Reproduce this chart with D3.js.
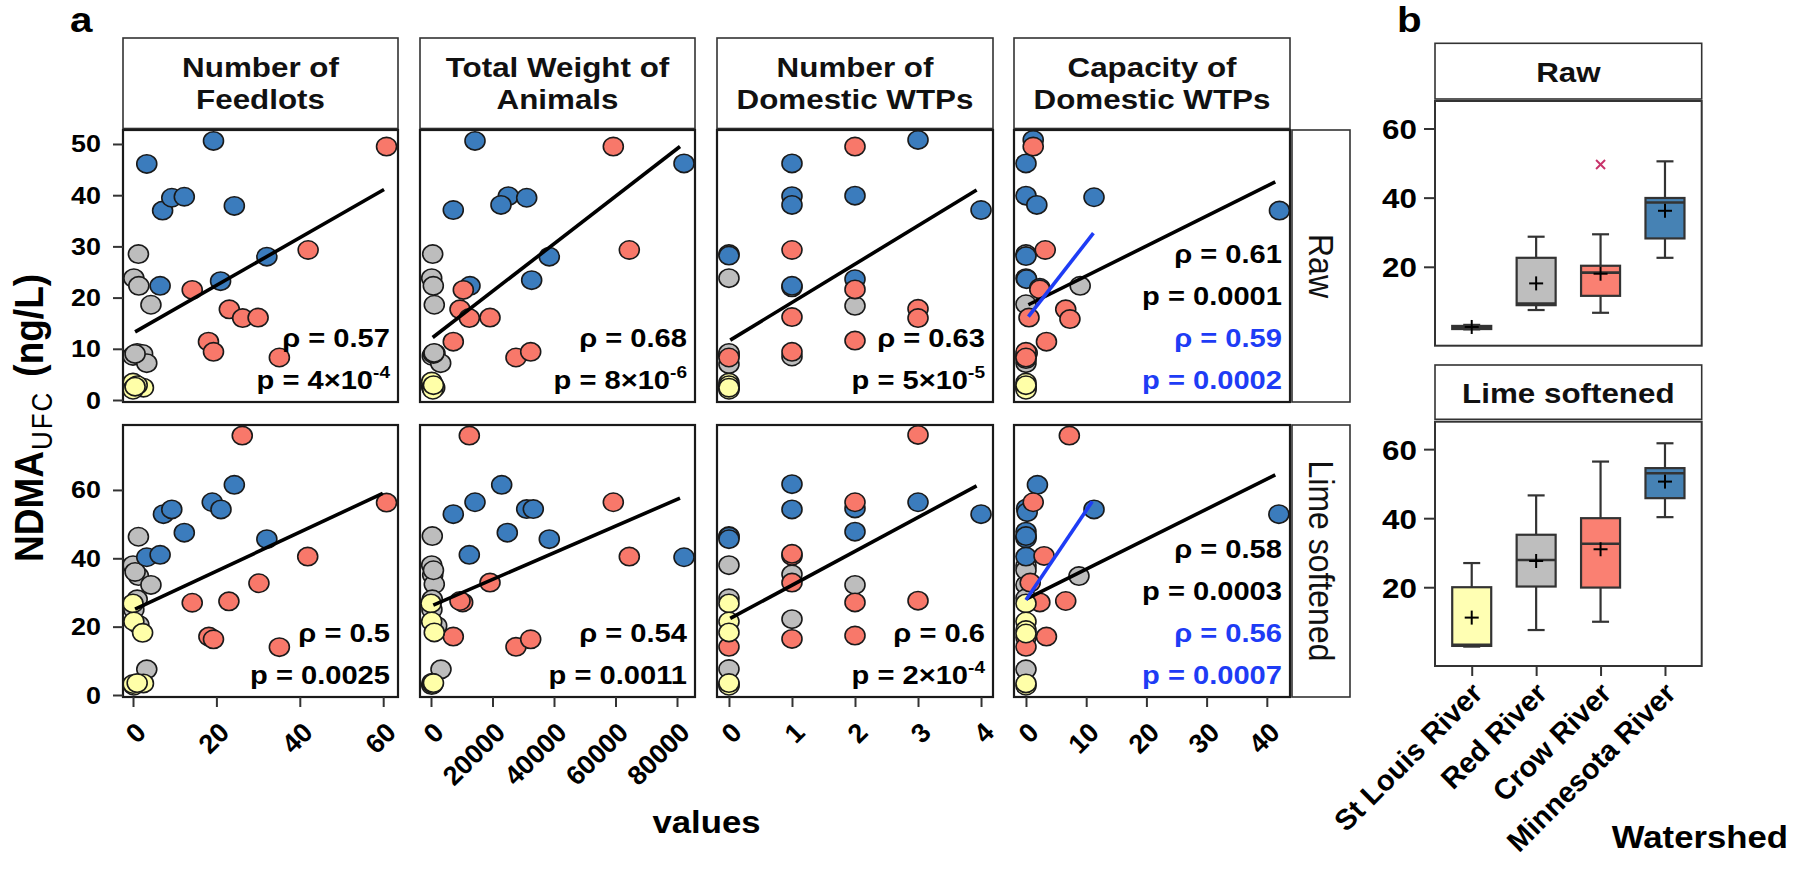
<!DOCTYPE html>
<html><head><meta charset="utf-8">
<script src="https://cdn.jsdelivr.net/npm/d3@7"></script>
<style>body{margin:0;background:#fff} svg{display:block}</style>
</head><body>
<svg id="c" width="1804" height="870"></svg>
<script>
// ---------------- DATA ----------------
const watersheds = ["St Louis River", "Red River", "Crow River", "Minnesota River"];
const groupCodes = ["S", "R", "C", "M"];
const stripLabels = [["Number of", "Feedlots"], ["Total Weight of", "Animals"], ["Number of", "Domestic WTPs"], ["Capacity of", "Domestic WTPs"]];
const rowLabels = ["Raw", "Lime softened"];
const xTicks = [[0, 20, 40, 60], [0, 20000, 40000, 60000, 80000], [0, 1, 2, 3, 4], [0, 10, 20, 30, 40]];
const yTicks = [[0, 10, 20, 30, 40, 50], [0, 20, 40, 60]];
const boxYTicks = [20, 40, 60];

// points: [x, NDMA, watershed code]
const raw_feedlots = [
  [3.3,46.1,"M"],[7.1,37.0,"M"],[9.3,39.5,"M"],[12.3,39.7,"M"],[19.3,50.6,"M"],[24.3,37.9,"M"],[32.1,28.0,"M"],[21.0,23.2,"M"],[6.5,22.3,"M"],
  [60.8,49.5,"C"],[42.0,29.3,"C"],[14.2,21.5,"C"],[23.1,17.7,"C"],[26.3,16.0,"C"],[30.0,16.1,"C"],[18.1,11.4,"C"],[19.3,9.4,"C"],[35.1,8.3,"C"],
  [1.3,28.5,"R"],[0.2,23.8,"R"],[1.4,22.3,"R"],[4.3,18.6,"R"],[0,8.6,"R"],[1.0,9.2,"R"],[2.3,9.0,"R"],[3.3,7.2,"R"],[0.5,9.0,"R"],
  [0,3.4,"S"],[0.2,2.3,"S"],[2.5,2.4,"S"],[0,2.0,"S"],[1.0,2.9,"S"],[0.5,2.6,"S"]
];
const raw_weight = [
  [14310,50.6,"M"],[82280,46.2,"M"],[7250,37.1,"M"],[25140,39.8,"M"],[22760,38.1,"M"],[31120,39.5,"M"],[38470,28.0,"M"],[32740,23.4,"M"],[12680,22.3,"M"],
  [59290,49.5,"C"],[64490,29.3,"C"],[10510,21.5,"C"],[9430,17.7,"C"],[12460,16.0,"C"],[19190,16.1,"C"],[7250,11.4,"C"],[27640,8.3,"C"],[32420,9.4,"C"],
  [550,28.5,"R"],[230,23.8,"R"],[750,22.3,"R"],[1070,18.6,"R"],[420,8.6,"R"],[1300,9.1,"R"],[3150,7.2,"R"],[800,9.0,"R"],[1000,9.2,"R"],
  [230,2.6,"S"],[230,3.6,"S"],[400,2.3,"S"],[1200,2.4,"S"],[600,2.0,"S"],[800,2.9,"S"]
];
const raw_wtp = [
  [3,50.8,"M"],[1,46.2,"M"],[1,39.8,"M"],[1,38.1,"M"],[2,39.9,"M"],[4,37.1,"M"],[0,28.2,"M"],[1,22.3,"M"],[2,23.6,"M"],
  [0,8.3,"C"],[1,29.3,"C"],[1,16.2,"C"],[1,9.4,"C"],[2,49.5,"C"],[2,21.6,"C"],[2,11.6,"C"],[3,17.8,"C"],[3,16.0,"C"],
  [0,28.5,"R"],[0,23.8,"R"],[2,18.4,"R"],[1,8.5,"R"],[0,9.0,"R"],[0,7.0,"R"],[1,22.0,"R"],[0,8.6,"R"],[0,9.2,"R"],
  [0,3.4,"S"],[0,2.6,"S"],[0,2.3,"S"],[0,2.0,"S"],[0,2.9,"S"],[0,2.4,"S"]
];
const raw_cap = [
  [1.2,50.8,"M"],[0,46.2,"M"],[0,39.9,"M"],[1.8,38.1,"M"],[11.3,39.6,"M"],[42.1,37.0,"M"],[0,28.1,"M"],[0.1,23.6,"M"],[2.3,21.9,"M"],
  [1.2,49.5,"C"],[3.2,29.3,"C"],[2.3,21.6,"C"],[0.5,16.1,"C"],[6.6,17.7,"C"],[7.3,15.8,"C"],[3.4,11.4,"C"],[0,9.4,"C"],[0,8.3,"C"],
  [9.0,22.3,"R"],[0,18.7,"R"],[0,7.2,"R"],[0,28.5,"R"],[0,23.8,"R"],[0,8.6,"R"],[0,9.0,"R"],[0.2,9.2,"R"],[0,8.0,"R"],
  [0,3.4,"S"],[0,2.6,"S"],[0,2.3,"S"],[0,2.0,"S"],[0,2.9,"S"]
];
const lime_feedlots = [
  [26.2,75.9,"C"],[60.8,56.3,"C"],[41.9,40.5,"C"],[30.2,32.7,"C"],[14.2,27.0,"C"],[23.0,27.4,"C"],[18.2,17.1,"C"],[19.3,16.3,"C"],[35.1,14.0,"C"],
  [24.3,61.5,"M"],[19.0,56.4,"M"],[21.1,54.3,"M"],[7.3,52.9,"M"],[9.3,54.3,"M"],[12.3,47.5,"M"],[32.1,45.6,"M"],[3.3,40.3,"M"],[6.5,41.0,"M"],
  [1.3,46.3,"R"],[0,38.0,"R"],[1.3,34.8,"R"],[4.3,32.2,"R"],[1.0,28.0,"R"],[3.3,7.5,"R"],[1.4,20.5,"R"],[0.5,36.0,"R"],[0.2,25.0,"R"],
  [0,26.8,"S"],[0.2,21.5,"S"],[2.3,18.2,"S"],[0.2,2.7,"S"],[2.5,3.4,"S"],[0,3.2,"S"],[1.0,3.5,"S"]
];
const lime_weight = [
  [12460,75.9,"C"],[59290,56.4,"C"],[64490,40.5,"C"],[19190,32.9,"C"],[10300,27.1,"C"],[9430,27.5,"C"],[7250,17.1,"C"],[27640,14.1,"C"],[32420,16.3,"C"],
  [22990,61.5,"M"],[14310,56.4,"M"],[31120,54.4,"M"],[33270,54.4,"M"],[7250,52.9,"M"],[24810,47.5,"M"],[38470,45.6,"M"],[12460,41.0,"M"],[82280,40.3,"M"],
  [420,46.5,"R"],[230,38.0,"R"],[550,35.1,"R"],[1070,32.4,"R"],[420,28.0,"R"],[3250,7.5,"R"],[1850,20.2,"R"],[800,36.5,"R"],[300,25.0,"R"],
  [0,26.8,"S"],[230,21.5,"S"],[1070,18.3,"S"],[230,2.9,"S"],[400,3.6,"S"],[600,3.2,"S"],[800,3.5,"S"]
];
const lime_wtp = [
  [0,46.3,"M"],[0,45.6,"M"],[1,61.7,"M"],[1,54.3,"M"],[2,54.6,"M"],[2,47.8,"M"],[3,56.4,"M"],[4,52.9,"M"],
  [0,14.1,"C"],[1,40.7,"C"],[1,41.3,"C"],[1,32.9,"C"],[1,16.4,"C"],[2,56.4,"C"],[2,27.1,"C"],[2,17.4,"C"],[3,76.1,"C"],[3,27.6,"C"],
  [0,46.5,"R"],[0,38.0,"R"],[0,28.3,"R"],[0,7.6,"R"],[1,35.3,"R"],[1,22.2,"R"],[2,32.2,"R"],
  [0,26.8,"S"],[0,21.5,"S"],[0,18.3,"S"],[0,3.1,"S"],[0,2.7,"S"],[0,3.5,"S"]
];
const lime_cap = [
  [7.2,75.9,"C"],[1.2,56.4,"C"],[3.0,40.7,"C"],[0.7,32.9,"C"],[2.3,27.1,"C"],[6.6,27.5,"C"],[3.4,17.1,"C"],[0,16.8,"C"],[0,14.1,"C"],
  [1.9,61.5,"M"],[0.1,54.6,"M"],[11.3,54.3,"M"],[42.0,52.9,"M"],[0,47.8,"M"],[0,45.8,"M"],[0,40.5,"M"],[0.2,53.5,"M"],[0,46.5,"M"],
  [8.8,34.8,"R"],[0,37.8,"R"],[0,32.2,"R"],[0,7.5,"R"],[0,28.3,"R"],[0,46.3,"R"],[0,36.5,"R"],
  [0,26.8,"S"],[0,21.5,"S"],[0,19.0,"S"],[0,2.7,"S"],[0,18.0,"S"],[0,3.4,"S"]
];

// fitted lines: [x0, y0, x1, y1]
const fitRaw  = [[0.5,13.3,60.2,41.1],[550,12.2,80980,49.5],[0.02,11.7,3.93,41.0],[0.4,18.6,41.4,42.6]];
const fitLime = [[0.5,25.1,59.9,59.0],[750,26.3,80980,57.6],[0.02,22.4,3.93,61.2],[0.1,28.1,41.4,64.4]];
const fitBlueRaw  = [0.4,16.3,11.2,32.6];
const fitBlueLime = [0.0,27.8,11.0,56.6];

const rhoRaw  = ["0.57", "0.68", "0.63", "0.61"];
const pRaw    = ["4×10^-4", "8×10^-6", "5×10^-5", "0.0001"];
const rhoLime = ["0.5", "0.54", "0.6", "0.58"];
const pLime   = ["0.0025", "0.0011", "2×10^-4", "0.0003"];
const rhoBlue = ["0.59", "0.56"];
const pBlue   = ["0.0002", "0.0007"];

// boxplot stats per watershed
const raw_min  = [1.9, 7.5, 6.7, 22.6];
const raw_q1   = [2.0, 8.9, 11.6, 28.2];
const raw_med  = [2.4, 9.4, 18.3, 38.6];
const raw_q3   = [2.9, 22.6, 20.3, 39.9];
const raw_max  = [3.2, 28.7, 29.4, 50.5];
const raw_mean = [2.6, 15.2, 18.0, 36.2];
const raw_out  = [[], [], [49.6], []];
const lime_min  = [2.8, 7.6, 10.0, 40.3];
const lime_q1   = [3.0, 20.2, 19.9, 45.8];
const lime_med  = [3.3, 27.9, 32.6, 53.0];
const lime_q3   = [20.0, 35.2, 40.0, 54.5];
const lime_max  = [27.0, 46.6, 56.4, 61.7];
const lime_mean = [11.2, 27.6, 31.0, 50.6];
const lime_out  = [[], [], [], []];

// ---------------- STYLE / LAYOUT ----------------
const FONT = "'Liberation Sans', Arial, Helvetica, sans-serif";
const SX = 1.12;
const pointFill = {S: "#FFFFA8", R: "#BDBDBD", C: "#F8786A", M: "#3B7CBD"};
const drawOrder = {R: 0, M: 1, C: 2, S: 3};
const boxFill = ["#FFFFB3", "#BEBEBE", "#FA8072", "#4682B4"];
const BLUE = "#1E3CF5";

const colX = [[123, 398], [420, 695], [717, 993], [1014, 1290]];
const rowY = [[130, 402], [425, 697]];
const stripY = [38, 128.5];
const rightStripX = [1292, 1350];
const xDomains = [[-2.40, 63.55], [-3577, 85854], [-0.19, 4.19], [-1.99, 43.85]];
const yDomains = [[-0.39, 52.73], [-0.585, 79.0]];

const boxX = [1435, 1701.7];
const boxPanelY = [[101, 345.7], [421.7, 666]];
const boxStripY = [[43.3, 99], [365, 419.3]];
const boxDomain = [-2.82, 67.95];

const svg = d3.select("#c");
svg.append("rect").attr("width", 1804).attr("height", 870).attr("fill", "#fff");

function label(parent, x, y, s, o = {}) {
  const t = parent.append("text")
    .attr("transform", `translate(${x},${y}) scale(${o.sx ?? SX},1)` + (o.rot ? ` rotate(${o.rot})` : ""))
    .attr("font-family", FONT).attr("font-size", o.size || 24)
    .attr("font-weight", o.weight || "bold")
    .attr("text-anchor", o.anchor || "start")
    .attr("fill", o.fill || "#000");
  if (s != null) t.text(s);
  return t;
}
function mathLabel(parent, x, y, str, o) {
  const t = label(parent, x, y, null, o);
  const parts = str.split("^");
  t.append("tspan").text(parts[0]);
  if (parts[1]) t.append("tspan").attr("font-size", 17).attr("dy", -11).text(parts[1]);
  return t;
}

// ---------------- PANEL a ----------------
const pointsByRow = [[raw_feedlots, raw_weight, raw_wtp, raw_cap], [lime_feedlots, lime_weight, lime_wtp, lime_cap]];
const fitsByRow = [fitRaw, fitLime];
const blueByRow = [fitBlueRaw, fitBlueLime];
const rhoByRow = [rhoRaw, rhoLime];
const pByRow = [pRaw, pLime];

// top strips
stripLabels.forEach((lines, ci) => {
  const [x0, x1] = colX[ci];
  svg.append("rect").attr("x", x0).attr("y", stripY[0]).attr("width", x1 - x0).attr("height", stripY[1] - stripY[0])
    .attr("fill", "#fff").attr("stroke", "#333").attr("stroke-width", 1.6);
  const cx = (x0 + x1) / 2, cy = (stripY[0] + stripY[1]) / 2;
  lines.forEach((ln, k) => label(svg, cx, cy - 6 + 32 * k, ln, {size: 28, anchor: "middle", fill: "#111"}));
});
// right strips
rowLabels.forEach((lab, ri) => {
  const [y0, y1] = rowY[ri];
  svg.append("rect").attr("x", rightStripX[0]).attr("y", y0).attr("width", rightStripX[1] - rightStripX[0]).attr("height", y1 - y0)
    .attr("fill", "#fff").attr("stroke", "#333").attr("stroke-width", 1.6);
  label(svg, (rightStripX[0] + rightStripX[1]) / 2 - 12.5, (y0 + y1) / 2, lab, {size: 32, weight: "normal", anchor: "middle", rot: 90, fill: "#111"});
});

for (let ri = 0; ri < 2; ri++) {
  for (let ci = 0; ci < 4; ci++) {
    const x = d3.scaleLinear().domain(xDomains[ci]).range(colX[ci]);
    const y = d3.scaleLinear().domain(yDomains[ri]).range([rowY[ri][1], rowY[ri][0]]);
    const g = svg.append("g");
    g.append("rect").attr("x", colX[ci][0]).attr("y", rowY[ri][0]).attr("width", colX[ci][1] - colX[ci][0])
      .attr("height", rowY[ri][1] - rowY[ri][0]).attr("fill", "#fff");
    const pts = pointsByRow[ri][ci].slice().sort((a, b) => drawOrder[a[2]] - drawOrder[b[2]]);
    g.selectAll("ellipse").data(pts).join("ellipse")
      .attr("cx", d => x(d[0])).attr("cy", d => y(d[1])).attr("rx", 10).attr("ry", 9.2)
      .attr("fill", d => pointFill[d[2]]).attr("stroke", "#1a1a1a").attr("stroke-width", 1.6);
    const f = fitsByRow[ri][ci];
    g.append("line").attr("x1", x(f[0])).attr("y1", y(f[1])).attr("x2", x(f[2])).attr("y2", y(f[3]))
      .attr("stroke", "#000").attr("stroke-width", 3.6);
    if (ci === 3) {
      const b = blueByRow[ri];
      g.append("line").attr("x1", x(b[0])).attr("y1", y(b[1])).attr("x2", x(b[2])).attr("y2", y(b[3]))
        .attr("stroke", BLUE).attr("stroke-width", 3.6);
    }
    g.append("rect").attr("x", colX[ci][0]).attr("y", rowY[ri][0]).attr("width", colX[ci][1] - colX[ci][0])
      .attr("height", rowY[ri][1] - rowY[ri][0]).attr("fill", "none").attr("stroke", "#1a1a1a").attr("stroke-width", 2.2);

    // stats text
    const lines = [{s: "ρ = " + rhoByRow[ri][ci], c: "#000"}, {s: "p = " + pByRow[ri][ci], c: "#000"}];
    if (ci === 3) { lines.push({s: "ρ = " + rhoBlue[ri], c: BLUE}, {s: "p = " + pBlue[ri], c: BLUE}); }
    const n = lines.length;
    lines.forEach((ln, k) => {
      mathLabel(g, colX[ci][1] - 8, rowY[ri][1] - 13 - 42 * (n - 1 - k), ln.s, {size: 26, anchor: "end", fill: ln.c});
    });

    // y axis
    if (ci === 0) {
      const ax = g.append("g").attr("transform", `translate(${colX[ci][0]},0)`)
        .call(d3.axisLeft(y).tickValues(yTicks[ri]).tickSize(10).tickFormat(d3.format("d")));
      ax.select(".domain").remove();
      ax.selectAll("line").attr("stroke", "#333").attr("stroke-width", 2);
      ax.selectAll("text").attr("x", null).attr("dy", null)
        .attr("transform", `translate(-22,8) scale(${SX},1)`)
        .attr("font-family", FONT).attr("font-size", 24).attr("font-weight", "bold").attr("fill", "#000");
    }
    // x axis
    if (ri === 1) {
      const ax = g.append("g").attr("transform", `translate(0,${rowY[ri][1]})`)
        .call(d3.axisBottom(x).tickValues(xTicks[ci]).tickSize(10).tickFormat(d3.format("d")));
      ax.select(".domain").remove();
      ax.selectAll("line").attr("stroke", "#333").attr("stroke-width", 2);
      ax.selectAll("text").attr("y", null).attr("dy", null)
        .attr("transform", `translate(14,37) rotate(-45)`)
        .attr("text-anchor", "end")
        .attr("font-family", FONT).attr("font-size", 27).attr("font-weight", "bold").attr("fill", "#000");
    }
  }
}

// axis titles panel a
label(svg, 706.5, 833, "values", {size: 31, anchor: "middle"});
const yt = label(svg, 43, 562, null, {size: 37, rot: -90, anchor: "start"});
yt.append("tspan").text("NDMA");
yt.append("tspan").attr("font-size", 26).attr("font-weight", "normal").attr("letter-spacing", 2).attr("dy", 8).attr("dx", 1).text("UFC");
yt.append("tspan").attr("dy", -8).attr("dx", 14).text("(ng/L)");
label(svg, 70, 32, "a", {size: 36});
label(svg, 1397, 32, "b", {size: 36});

// ---------------- PANEL b ----------------
const xb = d3.scalePoint().domain(watersheds).range(boxX).padding(0.57);
const boxStats = [
  {min: raw_min, q1: raw_q1, med: raw_med, q3: raw_q3, max: raw_max, mean: raw_mean, out: raw_out},
  {min: lime_min, q1: lime_q1, med: lime_med, q3: lime_q3, max: lime_max, mean: lime_mean, out: lime_out}
];
boxStats.forEach((st, ri) => {
  const [py0, py1] = boxPanelY[ri];
  const yb = d3.scaleLinear().domain(boxDomain).range([py1, py0]);
  const g = svg.append("g");
  // strip
  g.append("rect").attr("x", boxX[0]).attr("y", boxStripY[ri][0]).attr("width", boxX[1] - boxX[0])
    .attr("height", boxStripY[ri][1] - boxStripY[ri][0]).attr("fill", "#fff").attr("stroke", "#333").attr("stroke-width", 1.6);
  label(g, (boxX[0] + boxX[1]) / 2, (boxStripY[ri][0] + boxStripY[ri][1]) / 2 + 11, rowLabels[ri], {size: 28, anchor: "middle", fill: "#111"});
  g.append("rect").attr("x", boxX[0]).attr("y", py0).attr("width", boxX[1] - boxX[0]).attr("height", py1 - py0).attr("fill", "#fff");
  const bw = 39, cw = 17, ms = 7;
  watersheds.forEach((w, i) => {
    const cx = xb(w);
    const gg = g.append("g").attr("stroke", "#333").attr("stroke-width", 2.2);
    gg.append("line").attr("x1", cx).attr("x2", cx).attr("y1", yb(st.q3[i])).attr("y2", yb(st.max[i]));
    gg.append("line").attr("x1", cx).attr("x2", cx).attr("y1", yb(st.q1[i])).attr("y2", yb(st.min[i]));
    gg.append("line").attr("x1", cx - cw / 2).attr("x2", cx + cw / 2).attr("y1", yb(st.max[i])).attr("y2", yb(st.max[i]));
    gg.append("line").attr("x1", cx - cw / 2).attr("x2", cx + cw / 2).attr("y1", yb(st.min[i])).attr("y2", yb(st.min[i]));
    gg.append("rect").attr("x", cx - bw / 2).attr("width", bw).attr("y", yb(st.q3[i]))
      .attr("height", Math.max(1, yb(st.q1[i]) - yb(st.q3[i]))).attr("fill", boxFill[i]);
    gg.append("line").attr("x1", cx - bw / 2).attr("x2", cx + bw / 2).attr("y1", yb(st.med[i])).attr("y2", yb(st.med[i])).attr("stroke-width", 2.6);
    const my = yb(st.mean[i]);
    const mc = g.append("g").attr("stroke", "#000").attr("stroke-width", 2);
    mc.append("line").attr("x1", cx - ms).attr("x2", cx + ms).attr("y1", my).attr("y2", my);
    mc.append("line").attr("x1", cx).attr("x2", cx).attr("y1", my - ms).attr("y2", my + ms);
    st.out[i].forEach(v => {
      const oy = yb(v), s = 4.5;
      const og = g.append("g").attr("stroke", "#C8336A").attr("stroke-width", 2);
      og.append("line").attr("x1", cx - s).attr("x2", cx + s).attr("y1", oy - s).attr("y2", oy + s);
      og.append("line").attr("x1", cx - s).attr("x2", cx + s).attr("y1", oy + s).attr("y2", oy - s);
    });
  });
  g.append("rect").attr("x", boxX[0]).attr("y", py0).attr("width", boxX[1] - boxX[0]).attr("height", py1 - py0)
    .attr("fill", "none").attr("stroke", "#333").attr("stroke-width", 2);
  const ax = g.append("g").attr("transform", `translate(${boxX[0]},0)`)
    .call(d3.axisLeft(yb).tickValues(boxYTicks).tickSize(11).tickFormat(d3.format("d")));
  ax.select(".domain").remove();
  ax.selectAll("line").attr("stroke", "#333").attr("stroke-width", 2);
  ax.selectAll("text").attr("x", null).attr("dy", null)
    .attr("transform", `translate(-18,10) scale(${SX},1)`)
    .attr("font-family", FONT).attr("font-size", 28).attr("font-weight", "bold").attr("fill", "#000");
  if (ri === 1) {
    const axx = g.append("g").attr("transform", `translate(0,${py1})`)
      .call(d3.axisBottom(xb).tickSize(10));
    axx.select(".domain").remove();
    axx.selectAll("line").attr("stroke", "#333").attr("stroke-width", 2);
    axx.selectAll("text").attr("y", null).attr("dy", null)
      .attr("transform", `translate(12,29) rotate(-45)`)
      .attr("text-anchor", "end")
      .attr("font-family", FONT).attr("font-size", 29).attr("font-weight", "bold").attr("fill", "#000");
  }
});
label(svg, 1788, 848, "Watershed", {size: 31, anchor: "end"});
</script></body></html>
